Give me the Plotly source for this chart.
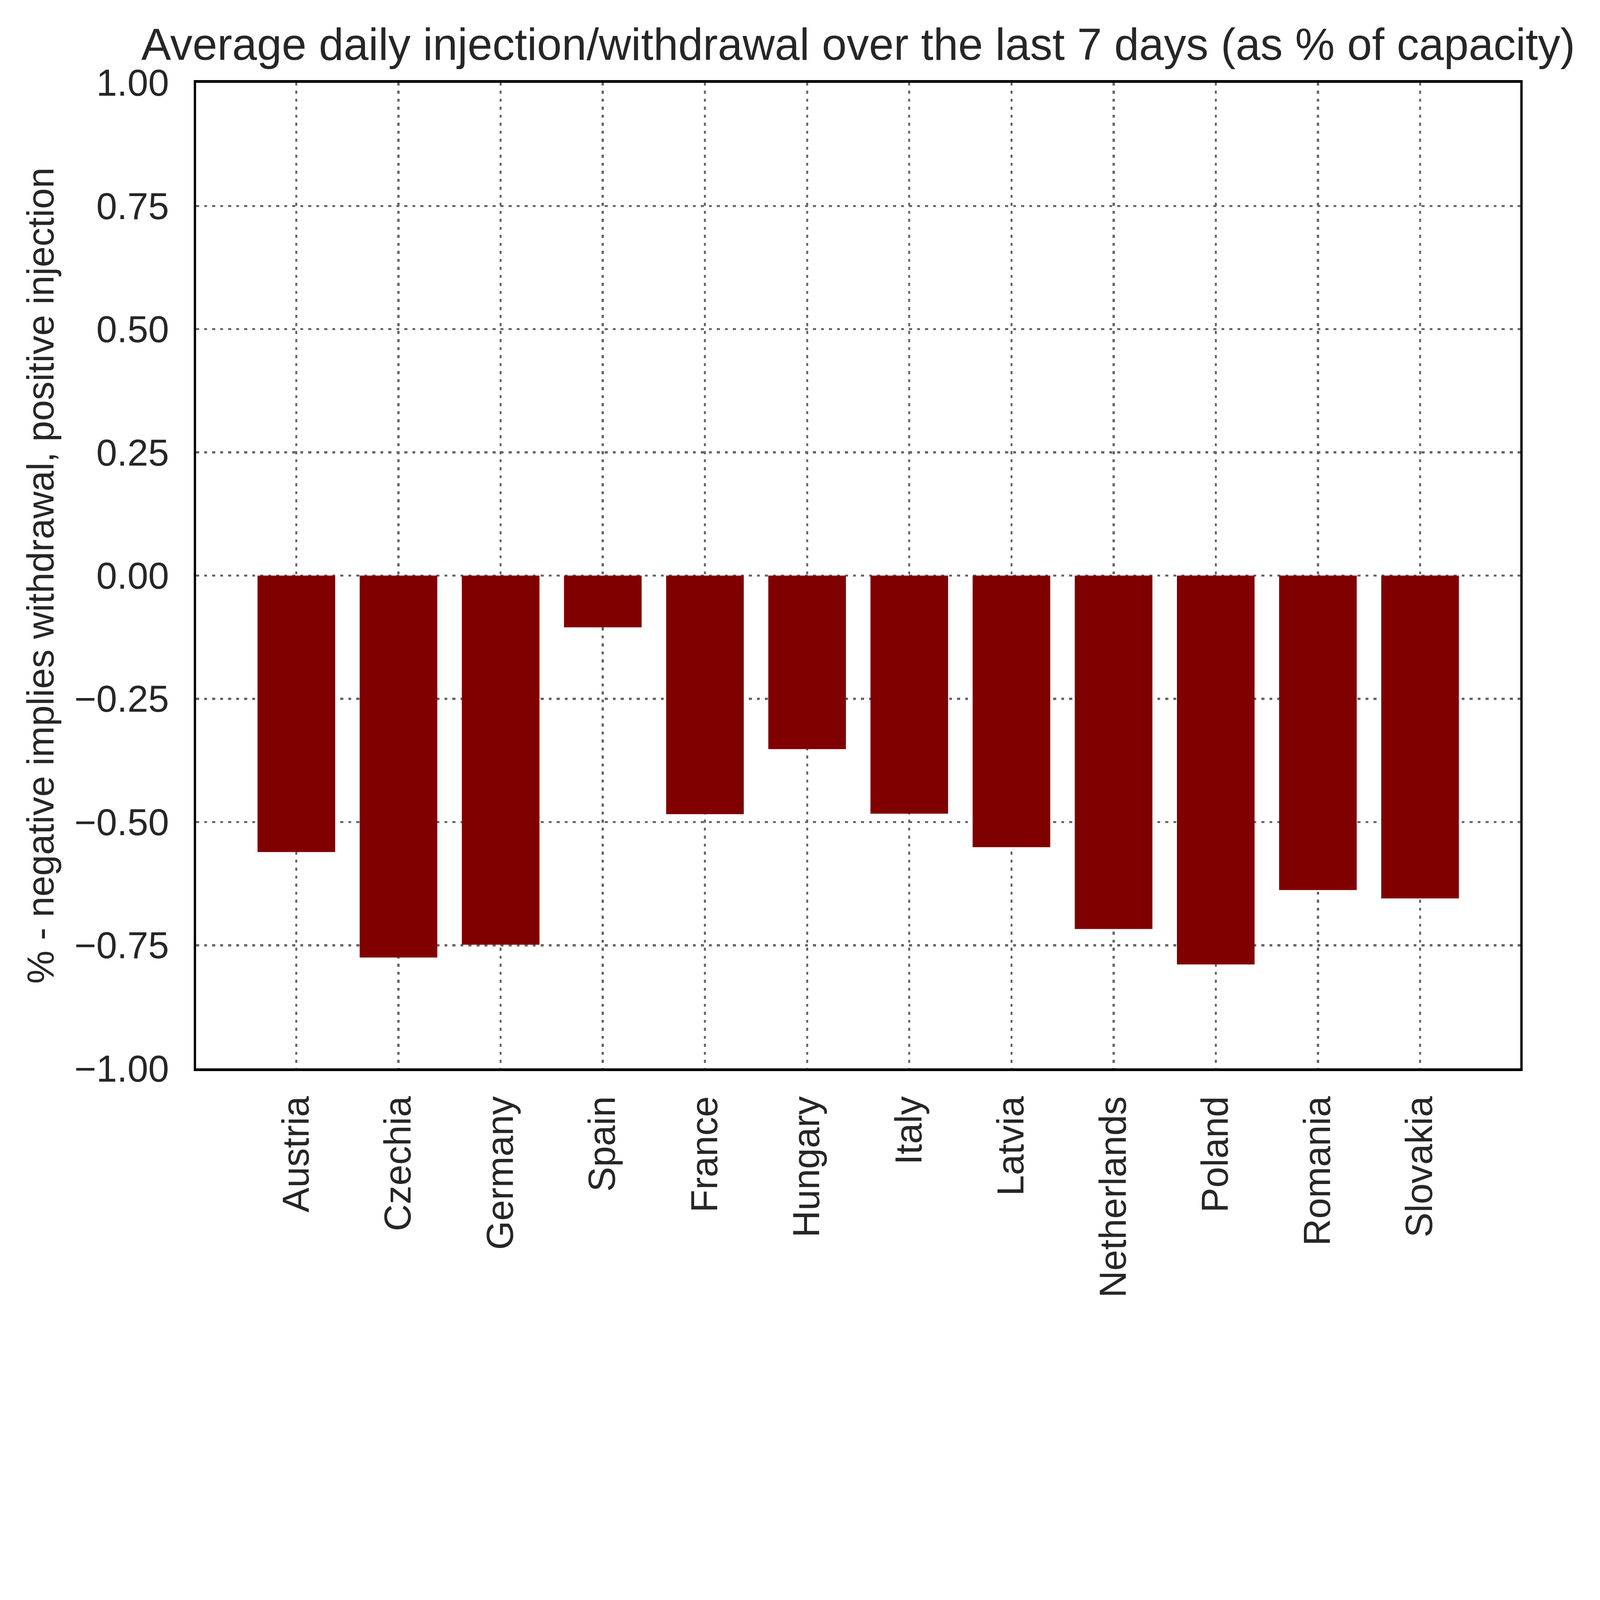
import plotly.graph_objects as go

countries = ["Austria", "Czechia", "Germany", "Spain", "France", "Hungary",
             "Italy", "Latvia", "Netherlands", "Poland", "Romania", "Slovakia"]
values = [-0.561, -0.775, -0.749, -0.105, -0.484, -0.352,
          -0.483, -0.551, -0.717, -0.789, -0.638, -0.655]
y_ticks = [1.00, 0.75, 0.50, 0.25, 0.00, -0.25, -0.50, -0.75, -1.00]

W, H = 5993, 4948
L, R, T, B = 735, 5694, 310, 4002
FONT = "Liberation Sans, Arial, sans-serif"
TXT = "#262626"

fig = go.Figure()
fig.add_trace(go.Bar(x=countries, y=values, marker=dict(color="#800000", line=dict(width=0)),
                     width=0.76))

grid = dict(showgrid=True, gridcolor="#666666", gridwidth=8, griddash="11px,19px")

fig.update_layout(
    width=W, height=H,
    margin=dict(l=L, r=W - R, t=T, b=H - B, pad=0),
    paper_bgcolor="white", plot_bgcolor="white",
    font=dict(family=FONT, size=140, color=TXT),
    showlegend=False,
    title=dict(text="Average daily injection/withdrawal over the last 7 days (as % of capacity)",
               x=0.5, xanchor="center", xref="paper",
               y=1 - 166 / H, yanchor="middle", yref="container",
               font=dict(family=FONT, size=167, color=TXT)),
    xaxis=dict(type="category", range=[-0.98, 11.98], tickangle=-90,
               showline=True, linecolor="black", linewidth=10, mirror=True,
               ticks="", ticklabelstandoff=38, zeroline=False,
               tickfont=dict(family=FONT, size=140, color=TXT), **grid),
    yaxis=dict(range=[-1.0, 1.0], tickvals=y_ticks, tickformat=".2f",
               showline=True, linecolor="black", linewidth=10, mirror=True,
               ticks="", ticklabelstandoff=64, zeroline=False,
               tickfont=dict(family=FONT, size=140, color=TXT), **grid),
    annotations=[dict(text="% - negative implies withdrawal, positive injection",
                      textangle=-90, xref="paper", yref="paper",
                      x=(152 - L) / (R - L), y=0.5, xanchor="center", yanchor="middle",
                      showarrow=False, font=dict(family=FONT, size=140, color=TXT))],
)

# If the browser viewport is smaller than the figure, shrink the whole page to fit.
fit_js = """
(function(){
  document.documentElement.style.margin='0';
  document.body.style.margin='0';
  document.body.style.overflow='hidden';
  var gd = document.getElementById('{plot_id}');
  var s = Math.min(1, window.innerWidth / %d, window.innerHeight / %d);
  if (s < 1) {
    gd.style.transformOrigin = '0 0';
    gd.style.transform = 'scale(' + s + ')';
  }
})();
""" % (W, H)

fig.write_html("out.html", post_script=fit_js, config={"displayModeBar": False})
